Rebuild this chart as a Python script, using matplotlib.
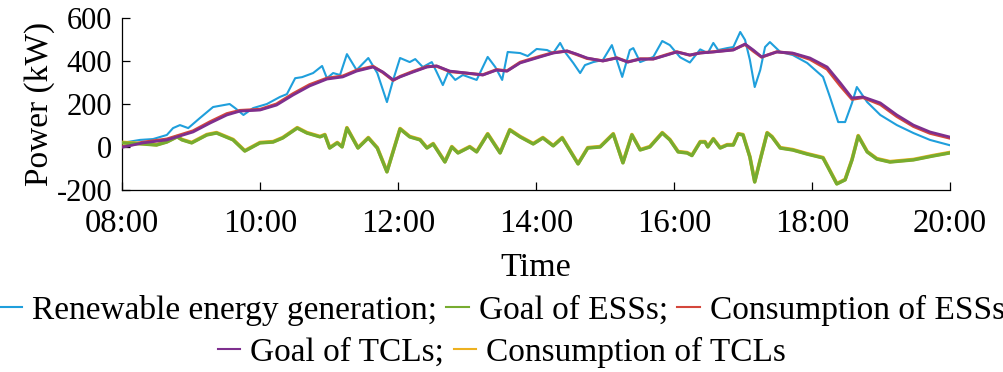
import matplotlib.pyplot as plt
from matplotlib.lines import Line2D

plt.rcParams['font.family'] = ['Liberation Serif', 'DejaVu Serif']
plt.rcParams['axes.unicode_minus'] = False

# hours of day and power (kW)
t_ren = [8.02, 8.26, 8.45, 8.65, 8.74, 8.84, 8.96, 9.13, 9.32, 9.56, 9.64, 9.76, 9.90,
         10.10, 10.29, 10.39, 10.51, 10.61, 10.77, 10.90, 10.97, 11.06, 11.16, 11.26,
         11.40, 11.57, 11.70, 11.84, 11.93, 12.03, 12.17, 12.25, 12.36, 12.49, 12.56,
         12.65, 12.73, 12.83, 12.94, 13.14, 13.30, 13.41, 13.51, 13.59, 13.77, 13.88,
         14.01, 14.16, 14.25, 14.35, 14.42, 14.54, 14.64, 14.71, 14.83, 14.97, 15.10,
         15.25, 15.36, 15.41, 15.51, 15.70, 15.83, 15.94, 16.09, 16.23, 16.38, 16.49,
         16.57, 16.64, 16.77, 16.86, 16.96, 17.03, 17.10, 17.17, 17.25, 17.32, 17.39,
         17.54, 17.72, 17.93, 18.16, 18.26, 18.38, 18.48, 18.58, 18.65, 18.80, 18.99,
         19.23, 19.47, 19.71, 19.99]
renewable = [20, 33, 37, 56, 88, 102, 88, 135, 186, 200, 181, 149, 181,
             200, 233, 246, 320, 325, 344, 377, 320, 344, 335, 432,
             358, 414, 344, 209, 312, 414, 395, 409, 372, 395, 349,
             288, 349, 312, 335, 312, 419, 372, 312, 442, 437, 423,
             456, 451, 437, 484, 442, 391, 344, 381, 395, 405, 474,
             326, 451, 460, 395, 419, 493, 474, 417, 393, 454, 437,
             484, 451, 460, 465, 535, 498, 405, 279, 358, 465, 488,
             442, 428, 391, 326, 233, 116, 116, 205, 279, 209, 149,
             102, 65, 33, 9]

t_tcl = [8.02, 8.30, 8.65, 9.03, 9.28, 9.52, 9.71, 10.00, 10.24, 10.48, 10.72, 10.97,
         11.20, 11.40, 11.64, 11.78, 11.93, 12.03, 12.22, 12.42, 12.56, 12.75, 13.00,
         13.23, 13.43, 13.58, 13.77, 14.06, 14.25, 14.45, 14.59, 14.74, 14.97, 15.17,
         15.33, 15.51, 15.70, 15.90, 16.04, 16.23, 16.38, 16.57, 16.86, 17.03, 17.15,
         17.27, 17.49, 17.72, 17.97, 18.22, 18.41, 18.58, 18.74, 18.99, 19.23, 19.47,
         19.71, 19.99]
goal_tcl = [0, 19, 33, 70, 112, 149, 167, 172, 195, 242, 284, 316,
            326, 353, 372, 349, 312, 326, 349, 372, 377, 353, 344,
            335, 358, 353, 391, 419, 437, 447, 432, 414, 400, 414,
            395, 409, 409, 428, 442, 428, 437, 442, 451, 479, 451,
            419, 442, 437, 414, 372, 298, 228, 233, 205, 149, 102,
            70, 47]
cons_ess = [2, 22, 37, 75, 118, 155, 170, 175, 200, 248, 290, 320,
            330, 357, 375, 347, 310, 328, 352, 374, 376, 351, 343,
            336, 360, 354, 394, 422, 439, 446, 430, 412, 401, 415,
            396, 410, 410, 430, 443, 427, 438, 443, 453, 477, 446,
            418, 443, 435, 408, 362, 285, 222, 230, 198, 142, 96,
            64, 42]

t_ess = [8.02, 8.30, 8.50, 8.65, 8.80, 8.87, 9.01, 9.23, 9.37, 9.61, 9.78, 10.00,
         10.19, 10.33, 10.54, 10.68, 10.87, 10.94, 11.01, 11.12, 11.19, 11.26, 11.42,
         11.57, 11.70, 11.84, 12.03, 12.17, 12.32, 12.42, 12.51, 12.68, 12.78, 12.87,
         13.04, 13.14, 13.30, 13.48, 13.62, 13.77, 13.96, 14.10, 14.25, 14.38, 14.61,
         14.75, 14.93, 15.12, 15.26, 15.39, 15.51, 15.65, 15.83, 15.94, 16.06, 16.19,
         16.26, 16.38, 16.45, 16.49, 16.57, 16.67, 16.77, 16.86, 16.93, 17.00, 17.10,
         17.17, 17.25, 17.35, 17.42, 17.54, 17.72, 17.93, 18.16, 18.23, 18.36, 18.48,
         18.58, 18.67, 18.80, 18.94, 19.13, 19.47, 19.75, 19.99]
goal_ess = [19, 14, 9, 23, 47, 33, 19, 56, 65, 33, -19, 19,
            23, 42, 88, 65, 47, 56, -5, 19, 0, 88, -5,
            42, -5, -116, 84, 47, 33, -5, 14, -70, 0, -28,
            0, -23, 60, -28, 79, 47, 14, 42, 5, 42, -79,
            -5, 0, 60, -74, 56, -14, 0, 65, 33, -23, -28,
            -40, 23, 23, 0, 37, -5, 9, 9, 60, 56, -47,
            -163, -60, 65, 47, -5, -14, -33, -51, -93, -172, -153,
            -60, 51, -23, -56, -70, -60, -42, -28]
cons_tcl = [21, 16, 11, 25, 49, 35, 21, 58, 67, 35, -17, 21,
            25, 44, 90, 67, 49, 58, -3, 21, 2, 90, -3,
            44, -3, -114, 86, 49, 35, -3, 16, -68, 2, -26,
            2, -21, 62, -26, 81, 49, 16, 44, 7, 44, -77,
            -3, 2, 62, -72, 58, -12, 2, 67, 35, -21, -26,
            -38, 25, 25, 2, 39, -3, 11, 11, 62, 58, -45,
            -161, -58, 67, 49, -3, -12, -31, -49, -91, -170, -151,
            -58, 53, -21, -54, -68, -58, -40, -26]

hours = [8, 10, 12, 14, 16, 18, 20]
hour_labels = ['08:00', '10:00', '12:00', '14:00', '16:00', '18:00', '20:00']

c_blue = '#1f9fdc'
c_green = '#77ac30'
c_red = '#d4473c'
c_purple = '#7e2f8e'
c_orange = '#edb120'

fig = plt.figure(figsize=(10.04, 3.72), dpi=100)
ax = fig.add_axes([0.1215, 0.4892, 0.8247, 0.4624])

ax.plot(t_ren, renewable, color=c_blue, lw=1.5, zorder=2)
ax.plot(t_ess, cons_tcl, color=c_orange, lw=2.6, zorder=3)
ax.plot(t_ess, goal_ess, color=c_green, lw=2.4, zorder=4)
ax.plot(t_tcl, cons_ess, color=c_red, lw=2.2, zorder=3)
ax.plot(t_tcl, goal_tcl, color=c_purple, lw=2.0, zorder=4)

ax.set_xlim(8, 20)
ax.set_ylim(-200, 600)
ax.set_xticks(hours)
ax.set_xticklabels(hour_labels)
ax.set_yticks([-200, 0, 200, 400, 600])
ax.spines['top'].set_visible(False)
ax.spines['right'].set_visible(False)
for s in ['left', 'bottom']:
    ax.spines[s].set_linewidth(0.9)
ax.tick_params(direction='in', length=6, width=0.9)
ax.tick_params(axis='y', pad=7, labelsize=22)
ax.tick_params(axis='x', pad=13, labelsize=23.5)
ax.set_xlabel('Time', fontsize=24.5, labelpad=10)
ax.set_ylabel('Power (kW)', fontsize=24, labelpad=1)

h = lambda c: Line2D([], [], color=c, lw=1.5)
leg_kw = dict(frameon=False, fontsize=24, handlelength=0.68, handletextpad=0.3,
              columnspacing=0.28, borderpad=0, borderaxespad=0)
fig.legend([h(c_blue), h(c_green), h(c_red)],
           ['Renewable energy generation;', 'Goal of ESSs;', 'Consumption of ESSs'],
           loc='center', bbox_to_anchor=(0.5, 0.165), ncol=3, **leg_kw)
fig.legend([h(c_purple), h(c_orange)],
           ['Goal of TCLs;', 'Consumption of TCLs'],
           loc='center', bbox_to_anchor=(0.5, 0.053), ncol=2, **leg_kw)

fig.savefig('out.png', dpi=100)
